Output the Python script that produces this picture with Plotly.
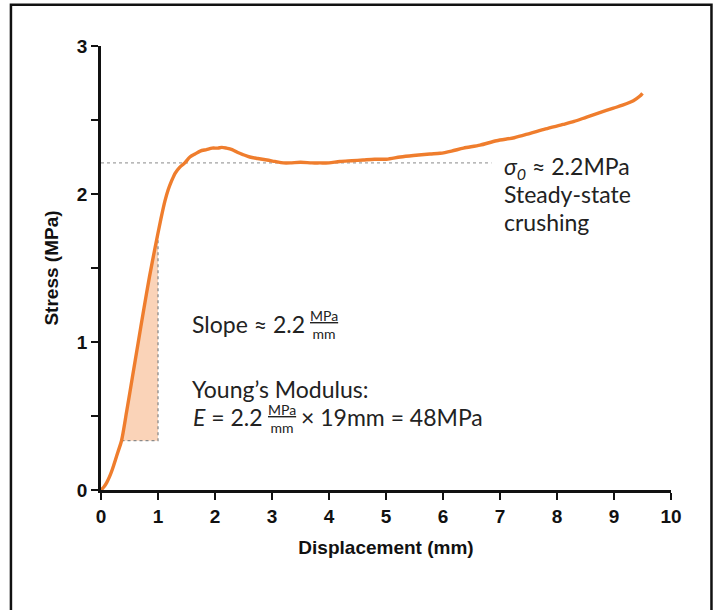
import numpy as np
import plotly.graph_objects as go

# ---- data ----
disp = [0, 0.05, 0.1, 0.15, 0.2, 0.25, 0.3, 0.36, 0.45, 0.55, 0.65, 0.75, 0.85, 0.95,
        1.05, 1.12, 1.18, 1.24, 1.30, 1.38, 1.47, 1.56, 1.65, 1.74, 1.85, 1.95, 2.05,
        2.12, 2.2, 2.3, 2.4, 2.5, 2.61, 2.75, 2.91, 3.05, 3.2, 3.32, 3.5, 3.7, 3.84,
        4.0, 4.19, 4.4, 4.6, 4.8, 5.01, 5.25, 5.48, 5.77, 5.95, 6.15, 6.36, 6.65, 6.94,
        7.25, 7.53, 7.8, 8.11, 8.3, 8.52, 8.75, 8.99, 9.15, 9.34, 9.45, 9.50]
stress = [0, 0.02, 0.05, 0.09, 0.14, 0.20, 0.26, 0.333, 0.53, 0.76, 0.99, 1.22, 1.44, 1.64,
          1.83, 1.95, 2.03, 2.09, 2.14, 2.18, 2.21, 2.25, 2.27, 2.29, 2.30, 2.31, 2.31,
          2.315, 2.31, 2.30, 2.28, 2.265, 2.25, 2.24, 2.23, 2.22, 2.21, 2.21, 2.215, 2.21, 2.21,
          2.21, 2.22, 2.225, 2.23, 2.235, 2.235, 2.25, 2.26, 2.27, 2.275, 2.29, 2.31, 2.33,
          2.36, 2.38, 2.41, 2.44, 2.47, 2.49, 2.52, 2.55, 2.58, 2.60, 2.63, 2.66, 2.68]

plateau_stress = 2.21      # sigma_0 line
plateau_end = 6.85
slope_x0, slope_x1 = 0.36, 1.0
slope_y0 = 0.333

x_ticks = [0, 1, 2, 3, 4, 5, 6, 7, 8, 9, 10]
y_ticks = [0, 1, 2, 3]

ORANGE = "#ef7d2d"
TXT = "#222222"
TEXT_FONT = "Lato, 'Open Sans', sans-serif"
AX_FONT = "'Liberation Sans Narrow', 'Arial Narrow', Arial, sans-serif"

d = np.array(disp)
s = np.array(stress)
y_at_x1 = float(np.interp(slope_x1, d, s))

fig = go.Figure()

# shaded slope triangle
mask = (d > slope_x0) & (d < slope_x1)
tx = [slope_x0] + list(d[mask]) + [slope_x1, slope_x1, slope_x0]
ty = [slope_y0] + list(s[mask]) + [y_at_x1, slope_y0, slope_y0]
fig.add_trace(go.Scatter(x=tx, y=ty, fill="toself", fillcolor="rgba(248,196,160,0.75)",
                         line=dict(width=0), mode="lines", hoverinfo="skip"))

# dotted guide lines
fig.add_trace(go.Scatter(x=[0, plateau_end], y=[plateau_stress, plateau_stress], mode="lines",
                         line=dict(color="#8a8a8a", width=1, dash="dot"), hoverinfo="skip"))
fig.add_trace(go.Scatter(x=[slope_x0, slope_x1, slope_x1], y=[slope_y0, slope_y0, y_at_x1],
                         mode="lines", line=dict(color="#8a8a8a", width=1.3, dash="dot"),
                         hoverinfo="skip"))

# stress-displacement curve
fig.add_trace(go.Scatter(x=disp, y=stress, mode="lines",
                         line=dict(color=ORANGE, width=3.4, shape="spline", smoothing=0.8),
                         cliponaxis=False))

ann = []
def txt(x, y, t, size=23, xa="left"):
    ann.append(dict(x=x, y=y, xref="x", yref="y", text=t, showarrow=False,
                    xanchor=xa, yanchor="middle", align="center" if xa == "center" else "left",
                    font=dict(family=TEXT_FONT, size=size, color=TXT)))

txt(7.03, 2.18, "<i>σ</i><sub><i>0</i></sub> ≈ 2.2MPa")
txt(7.03, 2.00, "Steady-state")
txt(7.03, 1.81, "crushing")
txt(1.56, 1.12, "Slope ≈ 2.2")
txt(3.91, 1.12, "<u>MPa</u><br>mm", size=14, xa="center")
txt(1.56, 0.68, "Young’s Modulus:")
txt(1.58, 0.495, "<i>E</i> = 2.2")
txt(3.18, 0.485, "<u>MPa</u><br>mm", size=14, xa="center")
txt(3.47, 0.495, "× 19mm = 48MPa")

fig.update_layout(
    width=719, height=610,
    margin=dict(l=101, r=48, t=46, b=120),
    paper_bgcolor="white", plot_bgcolor="white",
    showlegend=False,
    annotations=ann,
    shapes=[dict(type="rect", xref="paper", yref="paper", x0=-0.158, x1=1.071, y0=-0.4, y1=1.093,
                 line=dict(color="#111", width=2.5), layer="below")],
    xaxis=dict(range=[0, 10], tickvals=x_ticks, ticks="outside", ticklen=7, tickwidth=2,
               tickcolor="#111", showline=True, linecolor="#111", linewidth=2.5,
               showgrid=False, zeroline=False,
               tickfont=dict(family=AX_FONT, size=19, color="#111", weight="bold"),
               title=dict(text="<b>Displacement (mm)</b>", standoff=16,
                          font=dict(family=AX_FONT, size=19, color="#111"))),
    yaxis=dict(range=[0, 3], tickvals=y_ticks, ticks="outside", ticklen=7, tickwidth=2,
               tickcolor="#111", showline=True, linecolor="#111", linewidth=2.5,
               showgrid=False, zeroline=False,
               minor=dict(dtick=0.5, ticks="outside", ticklen=7, tickwidth=2, tickcolor="#111"),
               tickfont=dict(family=AX_FONT, size=19, color="#111", weight="bold"),
               title=dict(text="<b>Stress (MPa)</b>", standoff=14,
                          font=dict(family=AX_FONT, size=19, color="#111"))),
)

fig.write_html("out.html")
